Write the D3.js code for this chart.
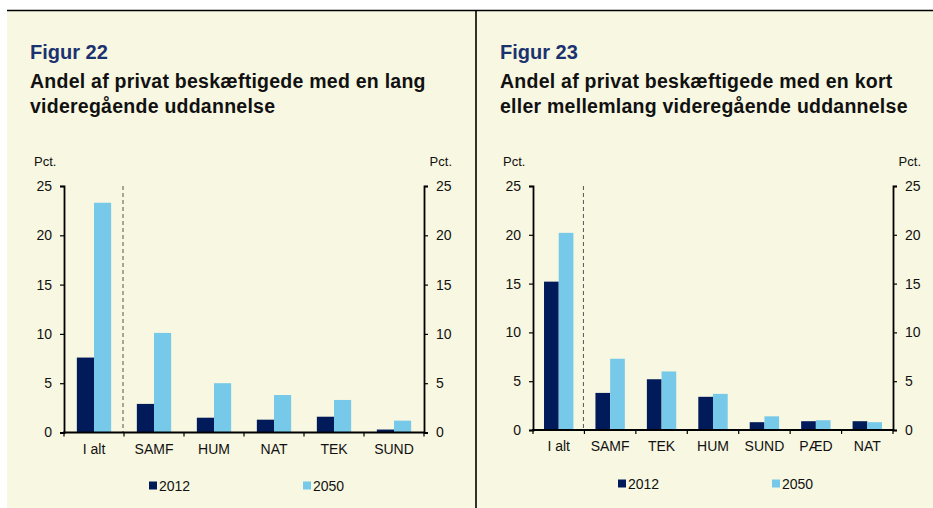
<!DOCTYPE html>
<html>
<head>
<meta charset="utf-8">
<script src="https://cdn.jsdelivr.net/npm/d3@7"></script>
<style>
  body { margin: 0; background: #fff; }
  svg { display: block; font-family: "Liberation Sans", Arial, sans-serif; }
</style>
</head>
<body>
<svg id="chart" width="933" height="508"></svg>
<script>
// data
const serier = ["2012", "2050"];
const yTicks = [0, 5, 10, 15, 20, 25];

const kategorier22 = ["I alt", "SAMF", "HUM", "NAT", "TEK", "SUND"];
const vaerdier22_2012 = [7.6, 2.9, 1.5, 1.3, 1.6, 0.3];
const vaerdier22_2050 = [23.3, 10.1, 5.0, 3.8, 3.3, 1.2];

const kategorier23 = ["I alt", "SAMF", "TEK", "HUM", "SUND", "PÆD", "NAT"];
const vaerdier23_2012 = [15.2, 3.8, 5.2, 3.4, 0.8, 0.9, 0.9];
const vaerdier23_2050 = [20.2, 7.3, 6.0, 3.7, 1.4, 1.0, 0.8];

const farver = { "2012": "#001a5a", "2050": "#76c9e8" };

const svg = d3.select("#chart");

// baggrund og rammer
svg.append("rect").attr("x", 7).attr("y", 10).attr("width", 926).attr("height", 498).attr("fill", "#f8f7e1");
svg.append("line").attr("x1", 7).attr("x2", 933).attr("y1", 10.5).attr("y2", 10.5).attr("stroke", "#000").attr("stroke-width", 1.3);
svg.append("line").attr("x1", 476).attr("x2", 476).attr("y1", 10).attr("y2", 508).attr("stroke", "#000").attr("stroke-width", 1.6);

function tegnFigur(opt) {
  const g = svg.append("g");

  // titler
  g.append("text").attr("x", opt.tx).attr("y", 59)
    .attr("fill", "#1b3270").attr("font-weight", "bold").attr("font-size", 20)
    .text(opt.figur);
  opt.titel.forEach((linje, i) => {
    g.append("text").attr("x", opt.tx).attr("y", 87.5 + i * 25)
      .attr("fill", "#111").attr("font-weight", "bold").attr("font-size", 19.5)
      .attr("letter-spacing", 0.25)
      .text(linje);
  });

  const x0 = d3.scaleBand().domain(opt.kategorier).range([opt.left, opt.right]).padding(0);
  const x1 = d3.scaleBand().domain(serier).range([0, x0.bandwidth()]).paddingInner(0).paddingOuter(0.75);
  const y = d3.scaleLinear().domain([0, 25]).range([opt.bund, 186]);

  // søjler
  const rows = opt.kategorier.map((k, i) => ({ k, v: { "2012": opt.v2012[i], "2050": opt.v2050[i] } }));
  const grupper = g.selectAll(".gruppe").data(rows).enter().append("g")
    .attr("transform", d => `translate(${x0(d.k)},0)`);
  grupper.selectAll("rect").data(d => serier.map(s => ({ s, v: d.v[s] }))).enter().append("rect")
    .attr("x", d => x1(d.s))
    .attr("width", x1.bandwidth())
    .attr("y", d => y(d.v))
    .attr("height", d => y(0) - y(d.v))
    .attr("fill", d => farver[d.s]);

  // stiplet skillelinje efter "I alt"
  const sx = x0(opt.kategorier[1]) - 1;
  g.append("line").attr("x1", sx).attr("x2", sx).attr("y1", 186).attr("y2", opt.bund)
    .attr("stroke", "#555").attr("stroke-width", 1).attr("stroke-dasharray", "4,3");

  // y-akser
  const venstre = g.append("g").attr("transform", `translate(${opt.left},0)`)
    .call(d3.axisLeft(y).tickValues(yTicks).tickSize(4).tickPadding(8));
  const hoejre = g.append("g").attr("transform", `translate(${opt.right},0)`)
    .call(d3.axisRight(y).tickValues(yTicks).tickSize(4).tickPadding(8));
  [venstre, hoejre].forEach(a => {
    a.select(".domain").attr("stroke", "#000").attr("stroke-width", 1.8);
    a.selectAll(".tick line").attr("stroke", "#000").attr("stroke-width", 1.2);
    a.selectAll(".tick text").attr("font-size", 14).attr("fill", "#111")
      .attr("font-family", "Liberation Sans, Arial, sans-serif");
  });

  // x-akse: linje, streger mellem kategorier, etiketter i midten
  g.append("line").attr("x1", opt.left - 1).attr("x2", opt.right + 1).attr("y1", opt.bund).attr("y2", opt.bund)
    .attr("stroke", "#000").attr("stroke-width", 1.8);
  const grænser = opt.kategorier.map(k => x0(k)).concat([opt.right]);
  g.selectAll(".xtick").data(grænser).enter().append("line")
    .attr("x1", d => d).attr("x2", d => d).attr("y1", opt.bund).attr("y2", opt.bund + 4)
    .attr("stroke", "#000").attr("stroke-width", 1.2);
  g.selectAll(".xlab").data(opt.kategorier).enter().append("text")
    .attr("x", d => x0(d) + x0.bandwidth() / 2).attr("y", opt.bund + 21)
    .attr("text-anchor", "middle").attr("font-size", 14).attr("fill", "#111")
    .text(d => d);

  // enhed
  g.append("text").attr("x", opt.left - 30).attr("y", 166).attr("font-size", 13).attr("fill", "#111").text("Pct.");
  g.append("text").attr("x", opt.right + 28).attr("y", 166).attr("text-anchor", "end")
    .attr("font-size", 13).attr("fill", "#111").text("Pct.");

  // forklaring
  serier.forEach((s, i) => {
    const lx = opt.legX[i];
    g.append("rect").attr("x", lx).attr("y", opt.legY - 9).attr("width", 8).attr("height", 8).attr("fill", farver[s]);
    g.append("text").attr("x", lx + 10).attr("y", opt.legY).attr("font-size", 14).attr("fill", "#111").text(s);
  });
}

tegnFigur({
  figur: "Figur 22",
  titel: ["Andel af privat beskæftigede med en lang", "videregående uddannelse"],
  tx: 30, left: 64, right: 424, bund: 432.5,
  kategorier: kategorier22, v2012: vaerdier22_2012, v2050: vaerdier22_2050,
  legX: [149, 303], legY: 490.5
});

tegnFigur({
  figur: "Figur 23",
  titel: ["Andel af privat beskæftigede med en kort", "eller mellemlang videregående uddannelse"],
  tx: 500, left: 533, right: 893, bund: 430,
  kategorier: kategorier23, v2012: vaerdier23_2012, v2050: vaerdier23_2050,
  legX: [618, 772], legY: 488.5
});
</script>
</body>
</html>
